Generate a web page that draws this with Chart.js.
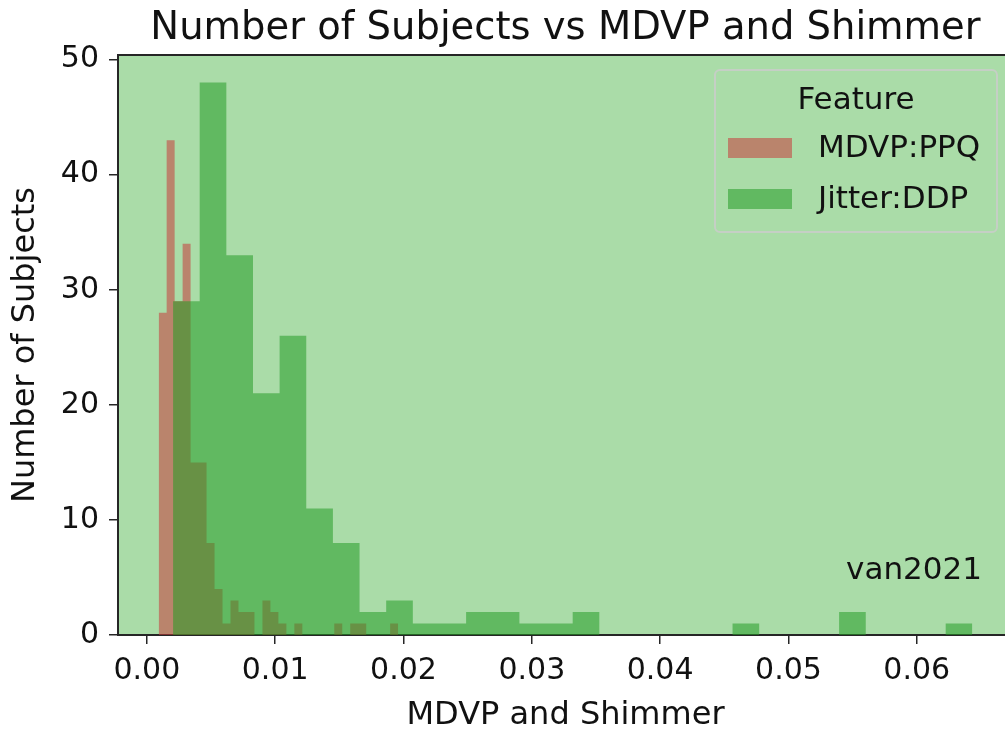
<!DOCTYPE html>
<html>
<head>
<meta charset="utf-8">
<script src="https://cdn.jsdelivr.net/npm/chart.js@4.4.1/dist/chart.umd.min.js"></script>
<style>
  html, body { margin: 0; padding: 0; background: #fff; overflow: hidden; }
  #wrap { width: 1020px; height: 734px; }
</style>
</head>
<body>
<div id="wrap"><canvas id="hist" width="1020" height="734"></canvas></div>
<script>
// histogram data, 30 bins each
const seriesNames = ['MDVP:PPQ', 'Jitter:DDP'];
const ppqRange = [0.00092, 0.01958];
const ppqCounts = [28, 43, 29, 34, 15, 15, 8, 4, 1, 3, 2, 2, 0, 3, 2, 1, 0, 1, 0, 0, 0, 0, 1, 0, 1, 1, 0, 0, 0, 1];
const ddpRange = [0.00204, 0.06433];
const ddpCounts = [29, 48, 33, 21, 26, 11, 8, 2, 3, 1, 1, 2, 2, 1, 1, 2, 0, 0, 0, 0, 0, 1, 0, 0, 0, 2, 0, 0, 0, 1];
const xTicks = [0, 0.01, 0.02, 0.03, 0.04, 0.05, 0.06];
const yTicks = [0, 10, 20, 30, 40, 50];

const plotBg = '#aadca8';
const ppqColor = 'rgba(199, 61, 58, 0.55)';
const ddpColor = 'rgba(37, 157, 38, 0.55)';
const axisColor = '#262626';
const textColor = '#111';
const FONT = '"DejaVu Sans", sans-serif';

// bin edges -> step points, last edge drops back to 0
function stepPoints(range, counts) {
  const w = (range[1] - range[0]) / counts.length;
  const pts = counts.map((c, i) => ({ x: range[0] + i * w, y: c }));
  pts.push({ x: range[1], y: 0 });
  return pts;
}

const decor = {
  id: 'decor',
  beforeDraw(chart) {
    const { ctx, chartArea: a } = chart;
    ctx.save();
    ctx.fillStyle = plotBg;
    ctx.fillRect(a.left, a.top, a.right - a.left, a.bottom - a.top);
    ctx.restore();
  },
  afterDraw(chart) {
    const { ctx, chartArea: a } = chart;
    ctx.save();
    // top spine
    ctx.strokeStyle = axisColor;
    ctx.lineWidth = 2;
    ctx.beginPath();
    ctx.moveTo(a.left - 1, a.top);
    ctx.lineTo(a.right + 1, a.top);
    ctx.stroke();

    // title
    ctx.fillStyle = textColor;
    ctx.textAlign = 'center';
    ctx.textBaseline = 'middle';
    ctx.font = '38.5px ' + FONT;
    ctx.fillText('Number of Subjects vs MDVP and Shimmer', (a.left + a.right) / 2, 29);

    // note in the corner
    ctx.font = '31px ' + FONT;
    ctx.textAlign = 'right';
    ctx.textBaseline = 'alphabetic';
    ctx.fillText('van2021', a.right - 31, a.bottom - 56);

    // legend
    const bx = a.right - 298, by = a.top + 15, bw = 282, bh = 162;
    ctx.fillStyle = plotBg;
    ctx.strokeStyle = 'rgba(204, 204, 204, 0.8)';
    ctx.lineWidth = 2;
    ctx.beginPath();
    ctx.roundRect(bx, by, bw, bh, 5);
    ctx.fill();
    ctx.stroke();

    ctx.fillStyle = textColor;
    ctx.textAlign = 'center';
    ctx.textBaseline = 'middle';
    ctx.font = '31px ' + FONT;
    ctx.fillText('Feature', bx + bw / 2, by + 31);

    const colors = [ppqColor, ddpColor];
    seriesNames.forEach((name, i) => {
      const sy = by + 68 + i * 51;
      ctx.fillStyle = colors[i];
      ctx.fillRect(bx + 13, sy, 64, 20);
      ctx.fillStyle = textColor;
      ctx.textAlign = 'left';
      ctx.fillText(name, bx + 103, sy + 11);
    });
    ctx.restore();
  }
};

new Chart(document.getElementById('hist'), {
  type: 'line',
  data: {
    datasets: [
      {
        label: seriesNames[0],
        data: stepPoints(ppqRange, ppqCounts),
        order: 2,
        stepped: 'before',
        fill: 'origin',
        backgroundColor: ppqColor,
        borderColor: 'transparent',
        borderWidth: 0,
        pointRadius: 0
      },
      {
        label: seriesNames[1],
        data: stepPoints(ddpRange, ddpCounts),
        order: 1,
        stepped: 'before',
        fill: 'origin',
        backgroundColor: ddpColor,
        borderColor: 'transparent',
        borderWidth: 0,
        pointRadius: 0
      }
    ]
  },
  options: {
    responsive: false,
    animation: false,
    devicePixelRatio: 1,
    layout: { padding: { left: 0, right: 7, top: 55, bottom: 0 } },
    plugins: {
      legend: { display: false },
      tooltip: { enabled: false }
    },
    scales: {
      x: {
        type: 'linear',
        min: -0.00225,
        max: 0.0675,
        z: 1,
        afterBuildTicks: s => { s.ticks = xTicks.map(v => ({ value: v })); },
        afterFit: s => { s.height = 99; },
        border: { display: true, color: axisColor, width: 2 },
        grid: { drawOnChartArea: false, drawTicks: true, tickLength: 9, color: axisColor, lineWidth: 1.5 },
        ticks: {
          padding: 9,
          color: textColor,
          maxRotation: 0,
          font: { family: FONT, size: 30 },
          callback: v => v.toFixed(2)
        },
        title: {
          display: true,
          text: 'MDVP and Shimmer',
          color: textColor,
          font: { family: FONT, size: 32, lineHeight: 1.15 },
          padding: { top: 0, bottom: 0 }
        }
      },
      y: {
        min: 0,
        max: 50.4,
        z: 1,
        afterBuildTicks: s => { s.ticks = yTicks.map(v => ({ value: v })); },
        afterFit: s => { s.width = 118; },
        border: { display: true, color: axisColor, width: 2 },
        grid: { drawOnChartArea: false, drawTicks: true, tickLength: 9, color: axisColor, lineWidth: 1.5 },
        ticks: {
          padding: 10,
          color: textColor,
          font: { family: FONT, size: 30 },
          callback: v => String(v)
        },
        title: {
          display: true,
          text: 'Number of Subjects',
          color: textColor,
          font: { family: FONT, size: 32, lineHeight: 1.2 },
          padding: { top: 6, bottom: 0 }
        }
      }
    }
  },
  plugins: [decor]
});
</script>
</body>
</html>
